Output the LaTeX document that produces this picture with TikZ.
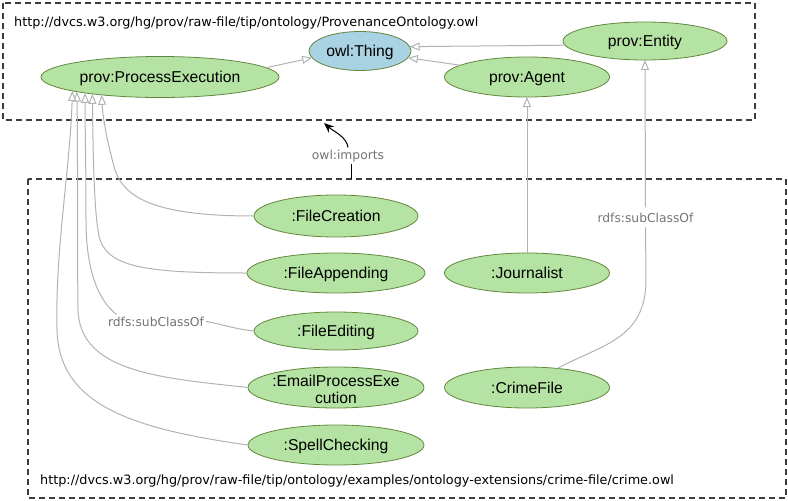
\documentclass[tikz,border=0pt]{standalone}
\usepackage{fontspec}
\setmainfont{Liberation Sans}
\newfontfamily\urlfont{DejaVu Sans}
\usetikzlibrary{arrows.meta,shapes.geometric}
\definecolor{nodegreen}{RGB}{181,227,163}
\definecolor{nodeborder}{RGB}{98,135,62}
\definecolor{thingblue}{RGB}{169,211,227}
\definecolor{edgegray}{RGB}{178,178,178}
\definecolor{labgray}{RGB}{115,115,115}
\definecolor{boxgray}{RGB}{60,60,60}
\newcommand\ctext[1]{\makebox[0pt]{\raisebox{-5.5pt}[0pt][0pt]{#1}}}
\newcommand\ctextii[2]{\makebox[0pt]{\raisebox{1.5pt}[0pt][0pt]{#1}}\makebox[0pt]{\raisebox{-15.5pt}[0pt][0pt]{#2}}}
\begin{document}
\begin{tikzpicture}[x=1pt,y=-1pt,
 cls/.style={ellipse, draw=nodeborder, line width=0.8pt, fill=nodegreen, inner sep=0pt, outer sep=0pt, font=\fontsize{15.7}{18}\selectfont},
 sub/.style={draw=edgegray, line width=1pt, -{Triangle[open, length=10pt, width=8pt, fill=white]}},
 subline/.style={draw=edgegray, line width=1pt},
 lab/.style={text=labgray, font=\urlfont\fontsize{12.3}{14}\selectfont, inner sep=2pt},
 url/.style={font=\urlfont\fontsize{12.8}{15}\selectfont, inner sep=0pt},
 dbox/.style={draw=boxgray, dash pattern=on 6pt off 4pt, line width=1.1pt},
 imp/.style={draw=black, line width=1pt}
]
\useasboundingbox (0,0) rectangle (788,501);
\draw[dbox] (3,3) rectangle (755,120);
\draw[dbox] (28,179) rectangle (786,498);

\node[url, anchor=base west] (url1) at (14,26) {http://dvcs.w3.org/hg/prov/raw-file/tip/ontology/ProvenanceOntology.owl};
\node[url, anchor=base west] (url2) at (40,484) {http://dvcs.w3.org/hg/prov/raw-file/tip/ontology/examples/ontology-extensions/crime-file/crime.owl};

\node[cls, fill=thingblue, minimum width=102pt, minimum height=39pt] (th) at (360,51) {\ctext{owl:Thing}};
\node[cls, minimum width=238pt, minimum height=41pt] (pe) at (160,77) {\ctext{prov:ProcessExecution}};
\node[cls, minimum width=164pt, minimum height=38pt] (ent) at (645,41) {\ctext{prov:Entity}};
\node[cls, minimum width=165pt, minimum height=40pt] (ag) at (527,77) {\ctext{prov:Agent}};
\node[cls, minimum width=164pt, minimum height=42pt] (fc) at (336,216) {\ctext{:FileCreation}};
\node[cls, minimum width=178pt, minimum height=40pt] (fa) at (336,273) {\ctext{:FileAppending}};
\node[cls, minimum width=164pt, minimum height=38pt] (fe) at (336,331) {\ctext{:FileEditing}};
\node[cls, minimum width=176pt, minimum height=41pt] (ep) at (336,387.5) {\ctextii{:EmailProcessExe}{cution}};
\node[cls, minimum width=176pt, minimum height=40pt] (sc) at (336,445) {\ctext{:SpellChecking}};
\node[cls, minimum width=165pt, minimum height=40pt] (jo) at (527,273) {\ctext{:Journalist}};
\node[cls, minimum width=165pt, minimum height=41pt] (cf) at (527,387.5) {\ctext{:CrimeFile}};

\node[lab, anchor=base] (implbl) at (348,159) {owl:imports};
\node[lab, anchor=base] (sublbl1) at (156,326) {rdfs:subClassOf};
\node[lab, anchor=base, inner ysep=5pt] (sublbl2) at (645.5,222) {rdfs:subClassOf};

% top ontology
\draw[sub] (pe.5) -- (th.188);
\draw[sub] (ag.170) -- (th.-8);
\draw[sub] (ent.183) -- (th.5);
\draw[sub] (jo.north) -- (ag.south);
\draw[subline] (cf.32) .. controls (600,345) and (646,340) .. (646,280) -- (sublbl2.south);
\draw[sub] (sublbl2.north) -- (ent.south);

% process executions
\draw[sub] (fc.west) .. controls (160,216) and (125,200) .. (115,170) .. controls (108,145) and (103,120) .. (pe.197);
\draw[sub] (fa.west) .. controls (150,273) and (110,268) .. (100,240) .. controls (94,220) and (93,150) .. (pe.194);
\draw[subline] (fe.west) .. controls (235,329) and (225,325) .. (sublbl1.east);
\draw[sub] (sublbl1.170) .. controls (98,300) and (86,270) .. (86,220) .. controls (86,160) and (85,130) .. (pe.192);
\draw[sub] (ep.west) .. controls (160,378) and (80,372) .. (78,310) .. controls (77,230) and (78,150) .. (pe.190);
\draw[sub] (sc.west) .. controls (125,428) and (59,402) .. (57,330) .. controls (55,250) and (70,170) .. (pe.189);

% owl:imports
\coordinate (impA) at (324,123);
\coordinate (impB) at (351,179);
\draw[imp] (impB) -- (impB |- implbl.south);
\draw[imp, -{Stealth[length=10pt, width=8pt]}] (implbl.north) .. controls (347,137) and (333,131) .. (impA);
\end{tikzpicture}
\end{document}
